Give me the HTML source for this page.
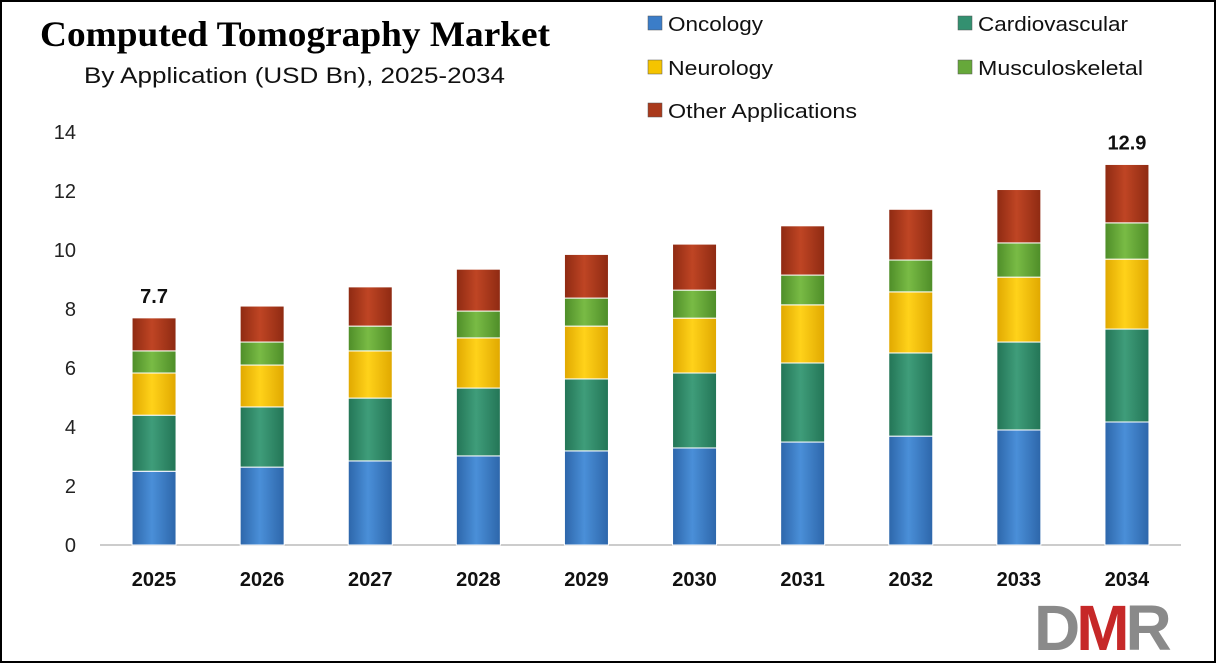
<!DOCTYPE html>
<html><head><meta charset="utf-8"><style>
body{margin:0;background:#fff;}
#wrap{position:relative;width:1216px;height:663px;overflow:hidden;}
text{font-family:"Liberation Sans",sans-serif;}
</style></head><body>
<div id="wrap">
<svg id="chart" width="1216" height="663">
<defs>
 <linearGradient id="gOnc" x1="0" x2="1"><stop offset="0" stop-color="#2d66aa"/><stop offset="0.45" stop-color="#4a8fd8"/><stop offset="1" stop-color="#2d66aa"/></linearGradient>
 <linearGradient id="gCar" x1="0" x2="1"><stop offset="0" stop-color="#237556"/><stop offset="0.45" stop-color="#3f9d7a"/><stop offset="1" stop-color="#237556"/></linearGradient>
 <linearGradient id="gNeu" x1="0" x2="1"><stop offset="0" stop-color="#e0a800"/><stop offset="0.45" stop-color="#ffd21a"/><stop offset="1" stop-color="#e0a800"/></linearGradient>
 <linearGradient id="gMus" x1="0" x2="1"><stop offset="0" stop-color="#4e8d28"/><stop offset="0.45" stop-color="#79bb45"/><stop offset="1" stop-color="#4e8d28"/></linearGradient>
 <linearGradient id="gOth" x1="0" x2="1"><stop offset="0" stop-color="#8e2a12"/><stop offset="0.45" stop-color="#bf4524"/><stop offset="1" stop-color="#8e2a12"/></linearGradient>
</defs>
<rect x="1" y="1" width="1214" height="661" fill="#fff" stroke="#000" stroke-width="2"/>
<text x="40" y="46" font-weight="bold" font-size="36" fill="#000" textLength="510" lengthAdjust="spacingAndGlyphs" style="font-family:'Liberation Serif',serif">Computed Tomography Market</text>
<text x="84" y="83" font-size="22" fill="#111" textLength="421" lengthAdjust="spacingAndGlyphs">By Application (USD Bn), 2025-2034</text>
<g id="legend"></g>
<g id="axis"></g>
<g id="bars"></g>
<g>
 <text x="1034" y="650" font-size="64" font-weight="bold" fill="#8a8a8a" letter-spacing="-4">D<tspan fill="#c62828">M</tspan>R</text>
</g>
</svg>
</div>
<script>
const years=["2025","2026","2027","2028","2029","2030","2031","2032","2033","2034"];
const oncology=[2.5,2.64,2.85,3.02,3.19,3.29,3.49,3.69,3.9,4.17];
const cardiovascular=[1.9,2.04,2.13,2.3,2.44,2.54,2.68,2.82,2.98,3.15];
const neurology=[1.43,1.42,1.6,1.7,1.79,1.86,1.97,2.07,2.2,2.37];
const musculoskeletal=[0.75,0.78,0.84,0.91,0.95,0.95,1.01,1.08,1.16,1.23];
const other=[1.12,1.22,1.33,1.42,1.48,1.56,1.67,1.72,1.81,1.98];
const yTicks=[0,2,4,6,8,10,12,14];
const totalLabels={0:"7.7",9:"12.9"};
const seriesNames=["Oncology","Cardiovascular","Neurology","Musculoskeletal","Other Applications"];
const NS="http://www.w3.org/2000/svg";
const series=[oncology,cardiovascular,neurology,musculoskeletal,other];
const fills=["url(#gOnc)","url(#gCar)","url(#gNeu)","url(#gMus)","url(#gOth)"];
const swatch=["#3b7dc8","#339070","#f5c400","#66a83a","#aa3a1c"];
const lens=[95,150,105,165,189];
const y0=545,yTop=132,yMax=14;
const yS=v=>y0-v*(y0-yTop)/yMax;
const x0=100,step=108.1,bw=44;
const xS=i=>x0+step*(i+0.5);
function mk(t,a,p){const e=document.createElementNS(NS,t);for(const k in a)e.setAttribute(k,a[k]);p.appendChild(e);return e;}
const axis=document.getElementById('axis');
yTicks.forEach(t=>{const e=mk('text',{x:76,y:yS(t)+7,'text-anchor':'end','font-size':20,fill:'#222'},axis);e.textContent=t;

});
const xl=mk('line',{x1:100,x2:1181,y1:y0,y2:y0,stroke:'#bbb','stroke-width':1.5},axis);


const bars=document.getElementById('bars');
years.forEach((yr,i)=>{let cum=0;const cx=xS(i);
 series.forEach((s,k)=>{const v=s[i];const r=mk('rect',{x:cx-bw/2,y:yS(cum+v),width:bw,height:yS(cum)-yS(cum+v),fill:fills[k],stroke:'#fff','stroke-width':1},bars);
 
 
 cum+=v;});
 const l=mk('text',{x:cx,y:586,'text-anchor':'middle','font-size':20,'font-weight':'bold',fill:'#111'},bars);l.textContent=yr;
 
 
 if(totalLabels[i]){const t=mk('text',{x:cx,y:yS(cum)-15,'text-anchor':'middle','font-size':20,'font-weight':'bold',fill:'#111'},bars);t.textContent=totalLabels[i];
 
 }
});
const lg=document.getElementById('legend');
const lpos=[[648,24],[958,24],[648,68],[958,68],[648,111]];
seriesNames.forEach((n,k)=>{const g=mk('g',{},lg);
 
 
 mk('rect',{x:lpos[k][0],y:lpos[k][1]-8,width:14,height:14,fill:swatch[k],stroke:'#555','stroke-width':0.5},g);
 const t=mk('text',{x:lpos[k][0]+20,y:lpos[k][1]+7,'font-size':20,fill:'#111',textLength:lens[k],lengthAdjust:'spacingAndGlyphs'},g);t.textContent=n;});
</script>
</body></html>
